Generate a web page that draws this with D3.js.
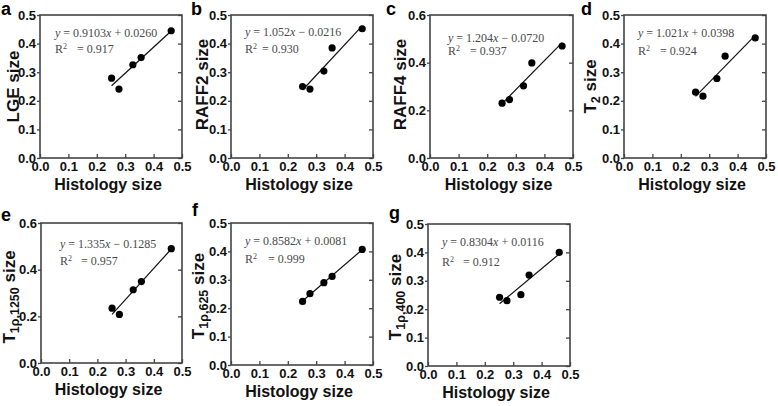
<!DOCTYPE html>
<html>
<head>
<meta charset="utf-8">
<script src="https://cdn.jsdelivr.net/npm/d3@7"></script>
<style>
body { margin: 0; background: #fff; }
svg { display: block; }
</style>
</head>
<body>
<svg id="chart" width="778" height="406"></svg>
<script>
'use strict';

// x values shared by every panel (histology size)
var histologySize = [0.252, 0.278, 0.327, 0.356, 0.462];

// measured sizes, one list per panel
var lgeSize       = [0.279, 0.241, 0.326, 0.351, 0.445];
var raff2Size     = [0.250, 0.241, 0.304, 0.385, 0.452];
var raff4Size     = [0.230, 0.245, 0.303, 0.399, 0.470];
var t2Size        = [0.230, 0.216, 0.278, 0.356, 0.420];
var t1rho1250Size = [0.235, 0.208, 0.314, 0.349, 0.490];
var t1rho625Size  = [0.224, 0.251, 0.290, 0.312, 0.407];
var t1rho400Size  = [0.242, 0.230, 0.251, 0.320, 0.400];

var panelLetters = ['a', 'b', 'c', 'd', 'e', 'f', 'g'];
var yTitleMain = ['LGE', 'RAFF2', 'RAFF4', 'T', 'T', 'T', 'T'];
var yTitleSub = ['', '', '', '2', '1\u03c1,1250', '1\u03c1,625', '1\u03c1,400'];
var yMax = [0.5, 0.5, 0.6, 0.5, 0.6, 0.5, 0.5];
var xTicks = [0, 0.1, 0.2, 0.3, 0.4, 0.5];
var yTicksFine = [0, 0.1, 0.2, 0.3, 0.4, 0.5];
var yTicksCoarse = [0, 0.2, 0.4, 0.6];

var eqSlopes = ['0.9103', '1.052', '1.204', '1.021', '1.335', '0.8582', '0.8304'];
var eqIntercepts = ['+ 0.0260', '\u2212 0.0216', '\u2212 0.0720', '+ 0.0398', '\u2212 0.1285', '+ 0.0081', '+ 0.0116'];
var r2Labels = ['0.917', '0.930', '0.937', '0.924', '0.957', '0.999', '0.912'];

var seriesList = [lgeSize, raff2Size, raff4Size, t2Size, t1rho1250Size, t1rho625Size, t1rho400Size];

// layout of each panel box (left, top, width, height) and text offsets
var layout = [
    { x: 40,  y: 15,  w: 142, h: 143, lx: 1,   ly: 15,  tx: 19,  ty: 0, eq: [15, 22], r2: [38, 22] },
    { x: 231, y: 15,  w: 142, h: 143, lx: 191, ly: 15,  tx: 208, ty: -2, eq: [14, 21], r2: [38, 17] },
    { x: 430, y: 15,  w: 143, h: 143, lx: 386, ly: 15,  tx: 406, ty: -2, eq: [18, 27], r2: [40, 22] },
    { x: 624, y: 15,  w: 142, h: 143, lx: 581, ly: 15,  tx: 596, ty: 0, eq: [14, 22], r2: [40, 22] },
    { x: 41,  y: 223, w: 141, h: 140, lx: 1,   ly: 221, tx: 15,  ty: 4, eq: [19, 25], r2: [42, 21] },
    { x: 231, y: 223, w: 142, h: 142, lx: 192, ly: 216, tx: 204, ty: 2, eq: [14, 22], r2: [40, 23] },
    { x: 428, y: 224, w: 142, h: 142, lx: 389, ly: 219, tx: 401, ty: 2, eq: [14, 22], r2: [42, 21] }
];

var svg = d3.select('#chart');
var fmt = d3.format('.1f');
var boxColor = '#444';

var fitLine = function(xs, ys) {
    var mx = d3.mean(xs), my = d3.mean(ys);
    var sxy = d3.sum(xs, function(v, i) { return (v - mx) * (ys[i] - my); });
    var sxx = d3.sum(xs, function(v) { return (v - mx) * (v - mx); });
    var slope = sxy / sxx;
    return { slope: slope, intercept: my - slope * mx };
};

var styleAxis = function(g) {
    g.select('.domain').remove();
    g.selectAll('.tick line').attr('stroke', boxColor).attr('stroke-width', 1.3);
    g.selectAll('.tick text')
        .attr('fill', '#111')
        .style('font-family', 'Liberation Sans, Arial, sans-serif')
        .style('font-weight', 'bold')
        .style('font-size', '13px');
};

var drawPanel = function(i) {
    var L = layout[i];
    var values = seriesList[i];
    var g = svg.append('g').attr('transform', 'translate(' + L.x + ',' + L.y + ')');

    var xScale = d3.scaleLinear().domain([0, 0.5]).range([0, L.w]);
    var yScale = d3.scaleLinear().domain([0, yMax[i]]).range([L.h, 0]);
    var yTicks = yMax[i] === 0.6 ? yTicksCoarse : yTicksFine;

    g.append('g').attr('transform', 'translate(0,' + L.h + ')')
        .call(d3.axisBottom(xScale).tickValues(xTicks).tickFormat(fmt).tickSize(-4).tickPadding(4))
        .call(styleAxis);
    g.append('g')
        .call(d3.axisLeft(yScale).tickValues(yTicks).tickFormat(fmt).tickSize(3).tickPadding(1))
        .call(styleAxis);
    g.append('g').attr('transform', 'translate(' + L.w + ',0)')
        .call(d3.axisRight(yScale).tickValues(yTicks).tickFormat('').tickSize(-4))
        .call(styleAxis);

    g.append('rect')
        .attr('width', L.w).attr('height', L.h)
        .attr('fill', 'none').attr('stroke', boxColor).attr('stroke-width', 1.6);

    // regression line over the data range
    var fit = fitLine(histologySize, values);
    var xr = d3.extent(histologySize);
    g.append('path')
        .attr('d', d3.line()
            .x(function(d) { return xScale(d); })
            .y(function(d) { return yScale(fit.slope * d + fit.intercept); })(xr))
        .attr('stroke', '#111').attr('stroke-width', 1.2).attr('fill', 'none');

    g.selectAll('circle').data(values).enter().append('circle')
        .attr('cx', function(d, k) { return xScale(histologySize[k]); })
        .attr('cy', function(d) { return yScale(d); })
        .attr('r', 3.6)
        .attr('fill', '#000');

    // equation and R2
    var eq = g.append('text')
        .attr('x', L.eq[0]).attr('y', L.eq[1])
        .attr('fill', '#4a4a4a')
        .style('font-family', 'Liberation Serif, Times New Roman, serif')
        .style('font-size', '12px');
    eq.append('tspan').style('font-style', 'italic').text('y');
    eq.append('tspan').text(' = ' + eqSlopes[i]);
    eq.append('tspan').style('font-style', 'italic').text('x');
    eq.append('tspan').text(' ' + eqIntercepts[i]);

    var r2 = g.append('text')
        .attr('x', L.eq[0]).attr('y', L.r2[0])
        .attr('fill', '#4a4a4a')
        .style('font-family', 'Liberation Serif, Times New Roman, serif')
        .style('font-size', '12px');
    r2.append('tspan').text('R');
    r2.append('tspan').attr('dy', -4).style('font-size', '8px').text('2');
    r2.append('tspan').attr('x', L.eq[0] + L.r2[1]).attr('dy', 4).text('= ' + r2Labels[i]);

    // y title (rotated)
    var cy = L.y + L.h / 2 + L.ty;
    var yt = svg.append('text')
        .attr('transform', 'translate(' + L.tx + ',' + cy + ') rotate(-90)')
        .attr('text-anchor', 'middle')
        .attr('fill', '#111')
        .style('font-family', 'Liberation Sans, Arial, sans-serif')
        .style('font-weight', 'bold')
        .style('font-size', '17px');
    yt.append('tspan').text(yTitleMain[i]);
    if (yTitleSub[i]) {
        yt.append('tspan').attr('dy', 4).style('font-size', '12.5px').text(yTitleSub[i]);
        yt.append('tspan').attr('dy', -4).text(' size');
    } else {
        yt.append('tspan').text(' size');
    }

    // x title
    svg.append('text')
        .attr('x', L.x + L.w / 2 - 3).attr('y', L.y + L.h + 32)
        .attr('text-anchor', 'middle')
        .attr('fill', '#111')
        .style('font-family', 'Liberation Sans, Arial, sans-serif')
        .style('font-weight', 'bold')
        .style('font-size', '16px')
        .text('Histology size');

    // panel letter
    svg.append('text')
        .attr('x', L.lx).attr('y', L.ly)
        .attr('fill', '#000')
        .style('font-family', 'Liberation Sans, Arial, sans-serif')
        .style('font-weight', 'bold')
        .style('font-size', '18px')
        .text(panelLetters[i]);
};

for (var i = 0; i < panelLetters.length; i++) {
    drawPanel(i);
}
</script>
</body>
</html>
